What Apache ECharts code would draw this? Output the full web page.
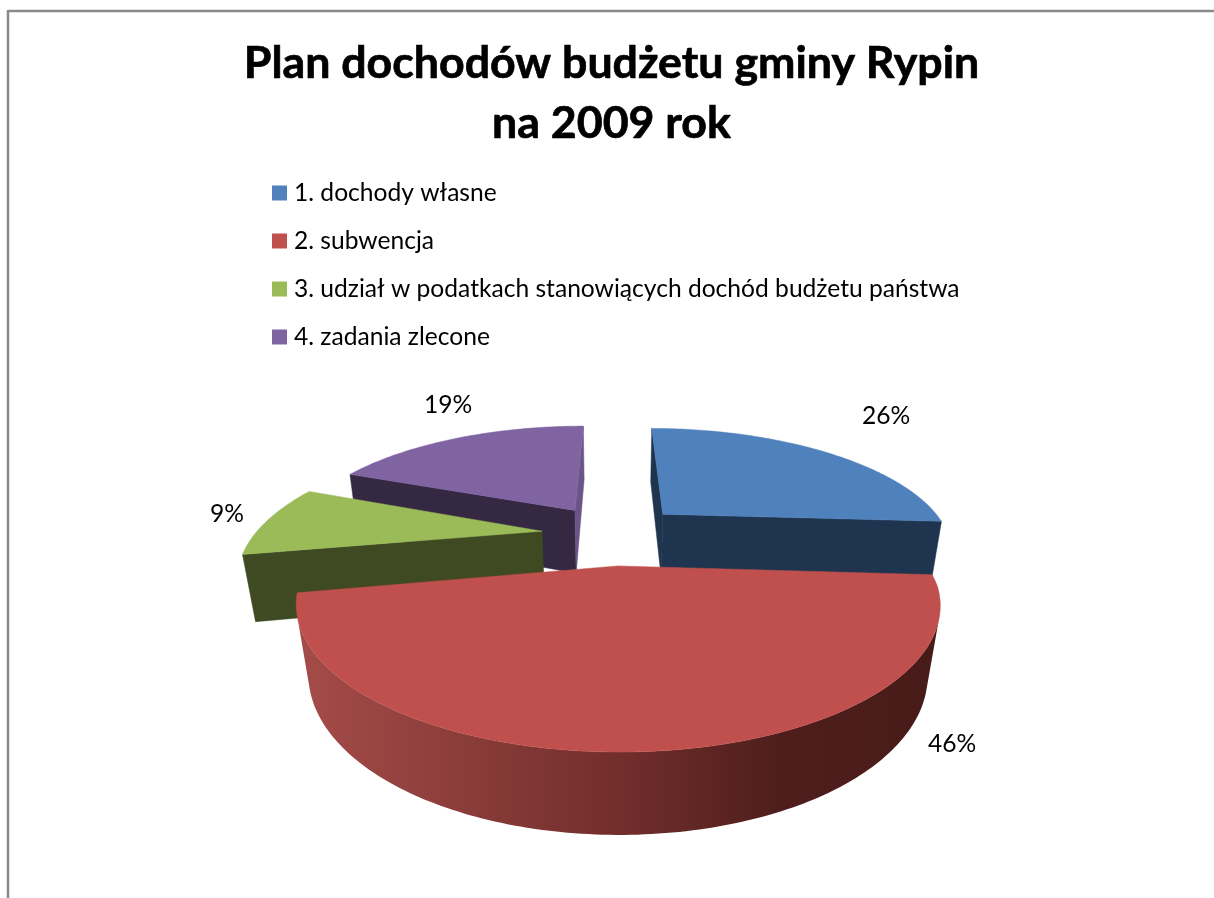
<!DOCTYPE html>
<html>
<head>
<meta charset="utf-8">
<style>html,body{margin:0;padding:0;background:#fff}#c{width:1214px;height:898px}</style>
<script src="https://cdn.jsdelivr.net/npm/echarts@6/dist/echarts.min.js"></script>
</head>
<body>
<div id="c"></div>
<script>
const titleText = 'Plan dochodów budżetu gminy Rypin\nna 2009 rok';
const categories = ['1. dochody własne', '2. subwencja', '3. udział w podatkach stanowiących dochód budżetu państwa', '4. zadania zlecone'];
const values = [26, 46, 9, 19];
const topColors = ['#4f81bd', '#c0504d', '#9bbb59', '#8064a2'];
const sideColors = ['#1f344e', '#722e2c', '#3f4922', '#352843'];
const endFaceColors = ['#1f344e', '#722e2c', '#3f4922', '#6b5488'];
const stackOrder = [3, 4, 2, 1];
const labelCentres = [[886, 416], [952, 744], [227, 514], [448, 405]];

// Perspective view of the pie: world radius 1, screen scale grows toward the viewer.
const view = { cx: 613, cy: 534, rx: 291, ry: 120, k: 0.25, m: 0.035, depth: 67.5, explode: 0.25, backX: 0.035, backY: 0.03 };
const total = values.reduce((a, b) => a + b, 0);
const rad = d => d * Math.PI / 180;

function project(X, Y, Z) {
  const s = 1 / (1 - view.k * Y + view.m * Z);
  const xs = s * (1 + view.backX * Math.min(0, Y - 0.4));
  const ys = s * (1 + view.backY * Math.min(0, Y + 0.2));
  return [view.cx + view.rx * X * xs, view.cy + view.ry * Y * ys + view.depth * Z * s];
}
function signedArea(pts) {
  let a = 0;
  for (let i = 0; i < pts.length; i++) {
    const p = pts[i], q = pts[(i + 1) % pts.length];
    a += p[0] * q[1] - q[0] * p[1];
  }
  return a;
}

function sliceGroup(index, api) {
  const val = api.value(0);
  const before = values.slice(0, index).reduce((a, b) => a + b, 0);
  const t0 = before / total * 360, t1 = (before + val) / total * 360, mid = (t0 + t1) / 2;
  const ox = Math.sin(rad(mid)) * view.explode, oy = -Math.cos(rad(mid)) * view.explode;
  const rim = (t, z) => project(ox + Math.sin(rad(t)), oy - Math.cos(rad(t)), z);
  const apex = z => project(ox, oy, z);
  const steps = Math.ceil(t1 - t0), angles = [];
  for (let i = 0; i <= steps; i++) angles.push(t0 + (t1 - t0) * i / steps);

  const children = [];
  const poly = (points, fill, stroke) => children.push({
    type: 'polygon', shape: { points },
    style: { fill, stroke: stroke || fill, lineWidth: 0.5 }
  });

  // radial faces
  const startFace = [apex(0), rim(t0, 0), rim(t0, 1), apex(1)];
  const endFace = [rim(t1, 0), apex(0), apex(1), rim(t1, 1)];
  if (signedArea(startFace) < 0) poly(startFace, sideColors[index]);
  if (signedArea(endFace) < 0) poly(endFace, endFaceColors[index]);

  // curved outer wall: only segments that face the viewer
  let run = [];
  const flush = () => {
    if (run.length > 1) {
      const pts = run.map(t => rim(t, 0)).concat(run.slice().reverse().map(t => rim(t, 1)));
      const fill = index === 1 ? new echarts.graphic.LinearGradient(0, 0, 1, 0, [
        { offset: 0, color: '#a54c49' }, { offset: 0.5, color: '#722e2c' },
        { offset: 0.75, color: '#4f1e1c' }, { offset: 1, color: '#471b19' }
      ]) : sideColors[index];
      children.push({ type: 'polygon', shape: { points: pts }, style: { fill } });
    }
    run = [];
  };
  for (let i = 0; i < steps; i++) {
    const a = angles[i], b = angles[i + 1];
    const q = [rim(a, 0), rim(b, 0), rim(b, 1), rim(a, 1)];
    if (signedArea(q) < 0) {
      if (!run.length) run.push(a);
      run.push(b);
    } else flush();
  }
  flush();

  // top face
  poly([apex(0)].concat(angles.map(t => rim(t, 0))), topColors[index]);

  // percentage label
  children.push({
    type: 'text',
    style: {
      x: labelCentres[index][0], y: labelCentres[index][1],
      text: Math.round(val / total * 100) + '%',
      fill: '#000', font: '24.6px Lato', align: 'center', verticalAlign: 'middle'
    },
    z2: 100
  });
  return { type: 'group', children };
}

const chart = echarts.init(document.getElementById('c'), null, { renderer: 'canvas', width: 1214, height: 898 });
chart.setOption({
  animation: false,
  backgroundColor: '#fff',
  title: {
    text: titleText, left: 606.5, top: 29, textAlign: 'center',
    textStyle: { fontFamily: 'Lato', fontWeight: 'bold', fontSize: 44.7, lineHeight: 60, color: '#000', textBorderColor: '#000', textBorderWidth: 0.7 }
  },
  legend: {
    orient: 'vertical', left: 267, top: 173, icon: 'rect',
    itemWidth: 15, itemHeight: 15, itemGap: 18, selectedMode: false,
    data: categories,
    textStyle: { fontFamily: 'Lato', fontSize: 24.6, lineHeight: 30, color: '#000', padding: [0, 0, 0, 2] }
  },
  graphic: [
    { type: 'line', shape: { x1: 8, y1: 11, x2: 1214, y2: 11 }, style: { stroke: '#8a8a8a', lineWidth: 2.5 } },
    { type: 'line', shape: { x1: 8, y1: 10, x2: 8, y2: 898 }, style: { stroke: '#8a8a8a', lineWidth: 2.5 } }
  ],
  series: categories.map((name, i) => ({
    type: 'custom', name, coordinateSystem: 'none', z: stackOrder[i] + 1,
    itemStyle: { color: topColors[i] },
    data: [values[i]],
    renderItem: (params, api) => sliceGroup(i, api)
  }))
});
</script>
</body>
</html>
